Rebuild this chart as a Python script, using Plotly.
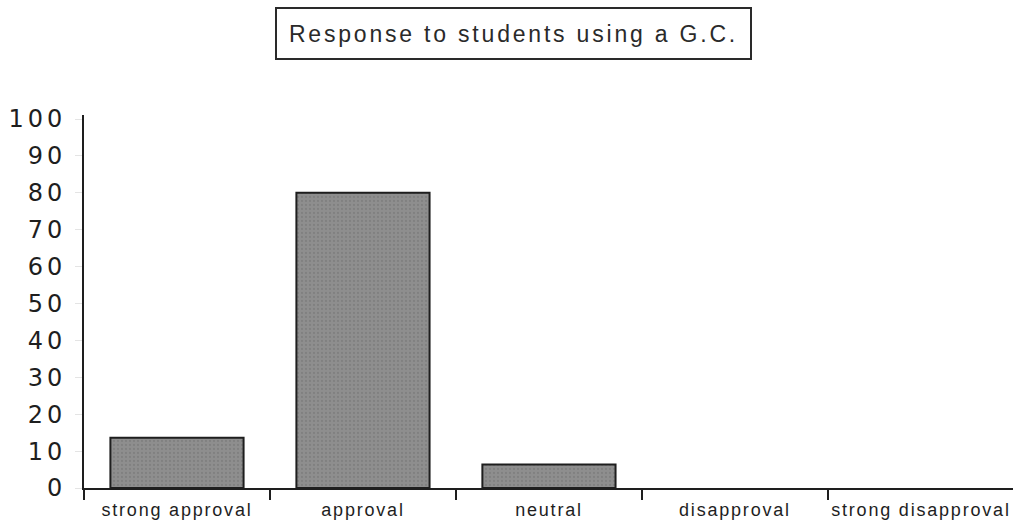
import plotly.graph_objects as go

# Survey responses (percent of teachers)
categories = ["strong approval", "approval", "neutral", "disapproval", "strong disapproval"]
percent = [13.6, 80.0, 6.4, 0.0, 0.0]

y_tick_values = [0, 10, 20, 30, 40, 50, 60, 70, 80, 90, 100]
y_tick_labels = [str(v) for v in y_tick_values]

title_text = "Response to students using a G.C."

# empty categories get no outline so nothing is drawn on the baseline
outline_widths = [2 if v > 0 else 0 for v in percent]

fig = go.Figure(
    go.Bar(
        x=categories,
        y=percent,
        width=0.716,
        marker=dict(
            color="#8a8a8a",
            line=dict(color="#1e1e1e", width=outline_widths),
            pattern=dict(shape=".", fgcolor="#727272", bgcolor="#8e8e8e", size=4, solidity=0.25),
        ),
        hoverinfo="skip",
    )
)

fig.add_annotation(
    text=title_text,
    xref="paper", yref="paper",
    x=0.4623, y=1.219,
    xanchor="center", yanchor="middle",
    showarrow=False,
    font=dict(family="Liberation Sans", size=23, color="#2a2a2a"),
    bordercolor="#2a2a2a", borderwidth=2, borderpad=1,
    width=471, height=47,
    bgcolor="white",
)

fig.update_layout(
    width=1027, height=522,
    margin=dict(l=84, r=14, t=115, b=34),
    paper_bgcolor="white", plot_bgcolor="white",
    showlegend=False,
    xaxis=dict(
        type="category",
        range=[-0.5, 4.495],
        automargin=False,
        showline=True, linecolor="#1e1e1e", linewidth=2,
        ticks="outside", tickson="boundaries", ticklen=10, tickwidth=2, tickcolor="#1e1e1e",
        ticklabelstandoff=4,
        tickfont=dict(family="Liberation Sans", size=18, color="#1e1e1e"),
        showgrid=False, zeroline=False,
    ),
    yaxis=dict(
        range=[0, 101.1],
        automargin=False,
        tickmode="array", tickvals=y_tick_values, ticktext=y_tick_labels,
        showline=True, linecolor="#1e1e1e", linewidth=2,
        ticks="outside", ticklen=7, tickwidth=1, tickcolor="#e4e4e4",
        ticklabelstandoff=4,
        tickfont=dict(family="DejaVu Sans", size=24, color="#1e1e1e"),
        showgrid=False, zeroline=False,
    ),
)

# wide letter tracking for the labels and the boxed heading
tracking_js = """
var gd = document.getElementById('{plot_id}');
gd.querySelectorAll('.ytick text').forEach(function(t){ t.style.letterSpacing = '4px'; });
gd.querySelectorAll('.xtick text').forEach(function(t){ t.style.letterSpacing = '1.8px'; });
gd.querySelectorAll('.annotation-text').forEach(function(t){ t.style.letterSpacing = '2.8px'; });
"""

fig.write_html("out.html", post_script=tracking_js)
